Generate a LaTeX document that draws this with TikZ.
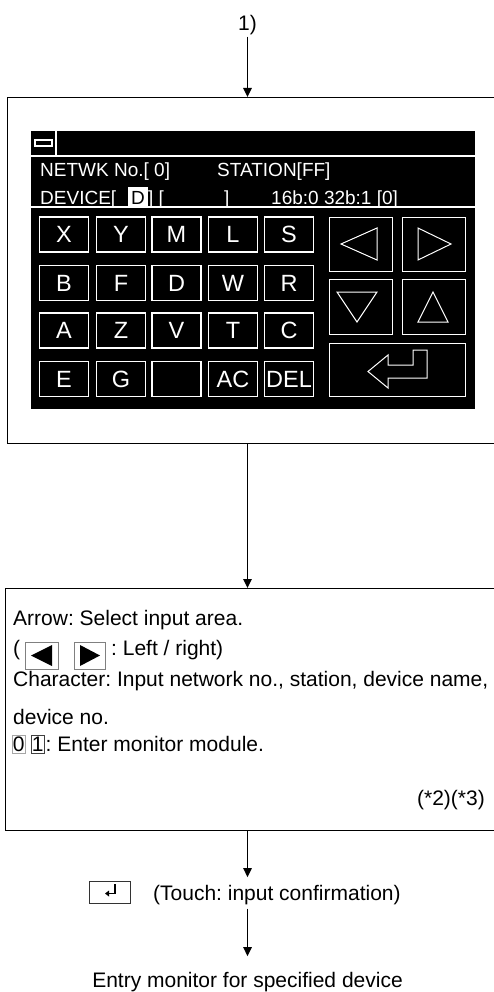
\documentclass[tikz,border=0pt]{standalone}
\usepackage{fontspec}
\setmainfont{Liberation Sans}
\usetikzlibrary{arrows.meta}
\frenchspacing
\begin{document}
\begin{tikzpicture}[x=1pt,y=-1pt,
 every node/.style={inner sep=0pt},
 conn/.style={line width=1.4pt,-{Triangle[length=9pt,width=8.5pt]}},
 frame/.style={draw=black,line width=1.4pt,anchor=north west,inner sep=0pt},
 lbl/.style={font=\fontsize{21}{25}\selectfont},
 info/.style={text=white,anchor=base west,font=\fontsize{19}{22}\selectfont},
 key/.style={draw=white,line width=1.3pt,minimum width=49pt,minimum height=35pt,text=white,font=\fontsize{23.5}{26}\selectfont},
 bigkey/.style={draw=white,line width=1.3pt,anchor=north west},
 glyph/.style={draw=white,line width=1pt,line join=miter},
 mini/.style={draw=gray,line width=0.8pt,anchor=north west},
 digitbox/.style={lbl,anchor=base west,line width=0.7pt,inner xsep=0.5pt,inner ysep=1pt,text depth=1.5pt},
]
\useasboundingbox (0,0) rectangle (494,992);
\clip (0,0) rectangle (494,992);
\fill[white] (0,0) rectangle (494,992);

% start label
\node[lbl,anchor=base,inner sep=1pt] (start) at (247.5,31) {1)};

% first frame with screen
\node[frame,minimum width=520pt,minimum height=346pt] (box1) at (7,97) {};
\draw[conn] (start.south) -- (start |- box1.north);

\node[fill=black,anchor=north west,minimum width=444pt,minimum height=278pt] (screen) at (31,131) {};
\draw[white,line width=2pt] (31,156.5) -- (475,156.5);
\draw[white,line width=2pt] (31,207) -- (475,207);
\draw[white,line width=2pt] (56,131) -- (56,156);
\draw[white,line width=1.2pt] (35,140) rectangle (52,146);

% info lines
\node[info] (net) at (40,177) {NETWK No.[ 0]};
\node[info] (sta) at (217,177) {STATION[FF]};
\node[info] (dev) at (40,205) {DEVICE[};
\fill[white] (128,187) rectangle (148,206.5);
\node[info,text=black] (devd) at (131,205) {D};
\node[info] (devb) at (148,205) {] [};
\node[info] (devc) at (224,205) {]};
\node[info] (bits) at (271,205) {16b:0 32b:1 [0]};

% letter keys
\foreach \lab/\nm/\cx/\cy in {
  X/kX/64/234.5, Y/kY/121/234.5, M/kM/176.5/234.5, L/kL/233/234.5, S/kS/289/234.5,
  B/kB/64/283, F/kF/121/283, D/kD/176.5/283, W/kW/233/283, R/kR/289/283,
  A/kA/64/330.5, Z/kZ/121/330.5, V/kV/176.5/330.5, T/kT/233/330.5, C/kC/289/330.5,
  E/kE/64/379, G/kG/121/379, {}/kBlank/176.5/379, AC/kAC/233/379, DEL/kDEL/289/379}
  \node[key,name=\nm] at (\cx,\cy) {\lab};

% arrow keys
\node[bigkey,minimum width=63pt,minimum height=54pt] (kleft) at (329,217) {};
\node[bigkey,minimum width=63pt,minimum height=54pt] (kright) at (402,217) {};
\node[bigkey,minimum width=63pt,minimum height=55pt] (kdown) at (329,279) {};
\node[bigkey,minimum width=63pt,minimum height=55pt] (kup) at (402,279) {};
\node[bigkey,minimum width=136pt,minimum height=53pt] (kenter) at (329,343) {};
\draw[glyph] (341,244) -- (377,228) -- (377,260) -- cycle;
\draw[glyph] (418,228) -- (418,260) -- (451,244) -- cycle;
\draw[glyph] (337,292) -- (377,292) -- (357,322) -- cycle;
\draw[glyph] (418,322) -- (448,322) -- (433,292) -- cycle;
\draw[glyph] (368,371.5) -- (388,355) -- (388,365) -- (413,365) -- (413,350)
  -- (427,350) -- (427,378) -- (388,378) -- (388,388) -- cycle;

% second frame
\node[frame,minimum width=520pt,minimum height=242pt] (box2) at (5,588) {};
\draw[conn] (start |- box1.south) -- (start |- box2.north);

\node[lbl,anchor=base west] (t1) at (13,625) {Arrow: Select input area.};
\node[lbl,anchor=base west] (t2a) at (13,655) {(};
\node[mini,minimum width=33pt,minimum height=27pt] (kl) at (25,642) {};
\fill (31,655.5) -- (52,645) -- (52,666) -- cycle;
\node[mini,minimum width=31pt,minimum height=27pt] (kr) at (74,642) {};
\fill (80,645) -- (80,666) -- (100,655.5) -- cycle;
\node[lbl,anchor=base west] (t2b) at (111,655) {: Left / right)};
\node[lbl,anchor=base west] (t3) at (13,686) {Character: Input network no., station, device name,};
\node[lbl,anchor=base west] (t4) at (13,724) {device no.};
\node[digitbox,draw=gray!70] (d0) at (12,751) {0};
\node[digitbox,draw=black!75] (d1) at (31,751) {1};
\node[lbl,anchor=base west] (t5) at (45.5,751) {: Enter monitor module.};
\node[lbl,anchor=base east] (t6) at (485,805) {(*2)(*3)};

% confirmation
\node[lbl,anchor=base west,inner sep=4pt] (touch) at (149,900) {(Touch: input confirmation)};
\node[draw=black!80,line width=0.8pt,anchor=north west,minimum width=41pt,minimum height=22pt] (icon) at (89,881) {};
\draw[line width=1.6pt] (115,884) -- (115,893.5) -- (108,893.5);
\fill (105,893.5) -- (109,890.5) -- (109,896.5) -- cycle;
\draw[conn,shorten >=3.5pt] (start |- box2.south) -- (start |- touch.north);

\node[lbl,anchor=base,inner sep=4pt] (final) at (247.5,987) {Entry monitor for specified device};
\draw[conn,shorten >=11.5pt] (start |- touch.south) -- (start |- final.north);
\end{tikzpicture}
\end{document}
